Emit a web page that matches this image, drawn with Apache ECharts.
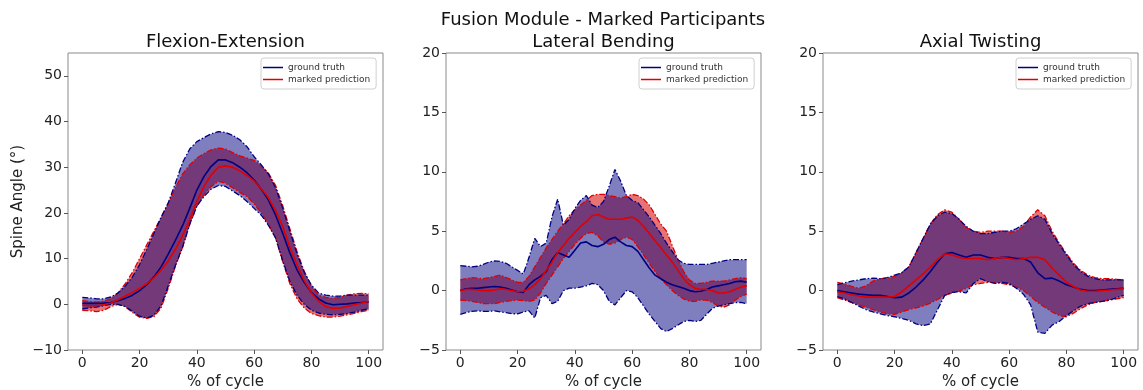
<!DOCTYPE html>
<html><head><meta charset="utf-8">
<script src="https://cdn.jsdelivr.net/npm/echarts@6/dist/echarts.min.js"></script>
<style>html,body{margin:0;padding:0;background:#fff}#c{width:1143px;height:390px}</style>
</head><body><div id="c"></div><script>
// ---------- data ----------
const X25 = [0,2.5,5,7.5,10,12.5,15,17.5,20,22.5,25,27.5,30,32.5,35,37.5,40,42.5,45,47.5,50,52.5,55,57.5,60,62.5,65,67.5,70,72.5,75,77.5,80,82.5,85,87.5,90,92.5,95,97.5,100];
const X2 = [0,2,4,6,8,10,12,14,16,18,20,22,24,26,28,30,32,34,36,38,40,42,44,46,48,50,52,54,56,58,60,62,64,66,68,70,72,74,76,78,80,82,84,86,88,90,92,94,96,98,100];

const xTicks = [0,20,40,60,80,100];
const yTicksFE = [-10,0,10,20,30,40,50];
const yTicksSmall = [-5,0,5,10,15,20];

// Flexion-Extension
const feGtMean  = [0.2,0.2,0.2,0.25,0.4,0.8,1.3,2.0,3.0,4.3,6.0,8.2,11.0,14.0,17.2,21.0,25.0,28.0,30.2,31.6,31.6,31.0,30.0,28.8,27.2,25.2,22.8,19.5,15.5,11.2,7.5,4.8,2.6,1.2,0.3,-0.1,0.0,0.1,0.3,0.4,0.5];
const fePrMean  = [-0.2,-0.3,-0.3,-0.1,0.3,1.0,1.8,2.6,3.5,4.5,5.8,7.5,9.5,12.0,15.0,18.5,22.5,25.8,28.3,30.0,30.3,30.0,29.2,28.2,27.0,25.3,23.3,20.5,17.0,12.5,8.6,5.2,2.5,0.7,-0.5,-0.9,-0.8,-0.5,-0.1,0.3,0.6];
const feGtUpper = [1.5,1.4,1.2,1.2,1.6,2.5,4.0,6.0,8.7,12.0,15.5,19.0,22.2,26.5,31.0,34.0,35.6,36.5,37.3,37.8,37.6,37.0,36.0,34.5,32.3,30.5,28.5,25.5,21.0,16.0,11.0,7.0,4.2,2.5,2.0,1.8,1.8,2.0,2.0,2.0,2.0];
const feGtLower = [-1.0,-0.8,-0.6,-0.3,0.0,0.0,-0.5,-1.5,-2.6,-3.0,-2.4,-0.3,4.0,8.5,12.5,17.5,21.5,23.6,25.2,26.0,25.8,24.8,23.8,22.5,21.0,19.5,17.3,14.5,9.5,5.0,2.0,0.0,-1.3,-1.9,-2.2,-2.3,-2.2,-2.0,-1.7,-1.3,-1.0];
const fePrUpper = [0.8,0.6,0.5,0.7,1.2,2.5,4.5,7.0,10.0,13.0,16.0,19.0,22.0,25.5,28.5,30.5,32.0,33.0,33.8,34.2,34.0,33.2,32.5,32.0,31.5,30.3,28.7,26.0,21.5,16.5,11.5,7.2,4.0,2.0,1.5,1.3,1.5,2.0,2.3,2.4,2.3];
const fePrLower = [-1.3,-1.4,-1.6,-1.3,-0.5,0.0,-0.5,-1.8,-2.8,-3.1,-2.7,-0.8,3.5,8.3,12.5,17.5,21.5,24.0,25.8,26.9,26.5,25.5,24.5,23.6,22.0,20.0,17.5,14.5,9.3,4.5,1.2,-0.8,-2.0,-2.5,-2.8,-2.8,-2.6,-2.3,-2.0,-1.6,-1.3];

// Lateral Bending
const lbGtMean  = [0.0,0.15,0.2,0.2,0.25,0.3,0.35,0.3,0.2,0.05,-0.1,-0.15,0.5,0.9,1.2,1.6,2.6,3.2,3.0,2.8,3.4,4.0,4.1,3.8,3.7,3.9,4.3,4.5,4.1,3.8,3.7,3.3,2.6,1.9,1.3,1.0,0.7,0.5,0.35,0.2,0.0,-0.1,-0.05,0.1,0.3,0.4,0.5,0.6,0.75,0.8,0.7];
const lbPrMean  = [0.0,0.1,0.1,0.05,0.0,0.0,0.05,0.15,0.1,0.0,-0.1,-0.05,0.15,0.5,1.0,1.7,2.4,3.2,3.8,4.4,4.9,5.4,5.8,6.3,6.4,6.2,6.0,6.0,6.0,6.1,6.2,5.9,5.4,4.8,4.2,3.6,3.0,2.4,1.7,1.0,0.5,0.2,0.1,0.1,0.0,-0.2,-0.2,-0.1,0.1,0.3,0.4];
const lbGtUpper = [2.1,2.05,2.0,2.05,2.2,2.4,2.5,2.45,2.3,2.0,1.7,1.4,2.8,4.4,3.7,4.0,6.2,7.7,5.5,6.0,6.9,7.6,8.0,7.2,7.0,7.5,8.8,10.2,9.2,8.0,7.6,7.4,6.8,6.2,5.5,4.8,4.0,3.3,2.6,2.3,2.2,2.2,2.2,2.2,2.3,2.4,2.5,2.6,2.6,2.6,2.6];
const lbGtLower = [-2.0,-1.85,-1.75,-1.7,-1.75,-1.75,-1.7,-1.8,-1.85,-1.95,-1.95,-1.8,-1.7,-2.3,-0.6,-0.4,-1.1,-0.9,0.0,0.2,0.2,0.3,0.4,0.6,0.5,0.0,-0.9,-1.2,-0.6,0.0,-0.1,-0.6,-1.3,-2.0,-2.6,-3.2,-3.45,-3.2,-2.9,-2.6,-2.5,-2.6,-2.5,-2.0,-1.5,-1.3,-1.2,-1.1,-1.0,-1.0,-1.1];
const lbPrUpper = [0.9,1.0,1.1,1.05,1.0,1.1,1.2,1.3,1.1,0.9,0.7,0.7,1.2,2.0,2.8,3.6,4.3,5.0,5.6,6.3,6.8,7.2,7.6,8.0,8.1,8.1,8.0,7.9,7.8,7.9,8.1,8.0,7.7,7.2,6.4,5.6,5.0,3.8,2.6,1.6,0.9,0.6,0.6,0.7,0.8,0.8,0.8,0.9,1.0,1.1,1.0];
const lbPrLower = [-0.8,-0.85,-0.9,-1.0,-1.1,-1.1,-1.1,-1.0,-0.9,-0.85,-0.8,-0.85,-0.9,-0.8,-0.2,0.6,1.3,2.0,2.7,3.3,3.9,4.4,4.8,4.9,4.6,4.1,3.9,4.0,4.3,4.5,4.3,3.7,3.0,2.3,1.6,1.0,0.5,0.0,-0.4,-0.7,-0.9,-0.9,-0.8,-0.8,-1.0,-1.3,-1.4,-1.2,-0.8,-0.5,-0.3];

// Axial Twisting
const atGtMean  = [0.0,-0.1,-0.2,-0.3,-0.35,-0.4,-0.4,-0.5,-0.6,-0.55,-0.2,0.3,0.9,1.6,2.4,3.1,3.2,3.0,2.8,3.0,3.0,2.8,2.7,2.8,2.8,2.7,2.7,2.4,1.5,1.0,1.05,0.8,0.5,0.3,0.1,0.0,0.0,0.05,0.1,0.15,0.2];
const atPrMean  = [-0.1,-0.2,-0.35,-0.45,-0.55,-0.55,-0.55,-0.55,-0.5,-0.1,0.4,0.9,1.4,2.0,2.6,3.1,3.0,2.8,2.7,2.7,2.7,2.6,2.7,2.8,2.7,2.6,2.7,2.8,2.8,2.6,1.9,1.3,0.7,0.35,0.05,-0.05,-0.05,0.0,0.05,0.1,0.15];
const atGtUpper = [0.5,0.65,0.8,0.9,1.0,1.05,1.0,1.1,1.3,1.5,2.0,3.2,4.4,5.6,6.3,6.6,6.5,6.0,5.4,5.0,4.8,4.8,4.9,5.0,5.0,5.2,5.6,6.0,6.3,6.0,4.8,3.9,3.0,2.2,1.6,1.2,1.0,0.9,0.9,0.9,0.9];
const atGtLower = [-0.5,-0.7,-1.0,-1.3,-1.6,-1.8,-1.95,-2.1,-2.2,-2.35,-2.5,-2.8,-2.95,-2.8,-1.6,-0.4,-0.15,-0.1,-0.2,0.6,1.0,0.75,0.6,0.7,0.6,0.2,-0.3,-1.2,-3.5,-3.6,-2.9,-2.6,-2.1,-1.7,-1.3,-1.1,-1.0,-0.9,-0.8,-0.6,-0.4];
const atPrUpper = [0.7,0.55,0.35,0.2,0.4,0.8,1.0,1.0,1.2,1.5,2.0,3.2,4.4,5.6,6.4,6.8,6.6,6.0,5.3,5.0,4.9,5.0,5.0,5.0,4.9,5.0,5.4,6.2,6.8,6.3,5.0,4.0,3.1,2.3,1.7,1.3,1.1,1.0,1.0,0.95,0.9];
const atPrLower = [-0.6,-0.8,-1.0,-1.2,-1.4,-1.6,-1.8,-1.95,-2.0,-1.8,-1.6,-1.45,-1.3,-1.05,-0.75,-0.4,-0.2,-0.05,0.2,0.5,0.6,0.7,0.7,0.6,0.5,0.3,0.0,-0.5,-1.0,-1.4,-1.8,-2.1,-2.2,-1.9,-1.5,-1.2,-1.0,-0.9,-0.8,-0.7,-0.6];

const suptitle = 'Fusion Module - Marked Participants';
const titles = ['Flexion-Extension', 'Lateral Bending', 'Axial Twisting'];
const legendNames = ['ground truth', 'marked prediction'];

const panels = [
  {x:X25, gm:feGtMean, pm:fePrMean, gu:feGtUpper, gl:feGtLower, pu:fePrUpper, pl:fePrLower, yt:yTicksFE, yMin:-10, yMax:55},
  {x:X2,  gm:lbGtMean, pm:lbPrMean, gu:lbGtUpper, gl:lbGtLower, pu:lbPrUpper, pl:lbPrLower, yt:yTicksSmall, yMin:-5, yMax:20},
  {x:X25, gm:atGtMean, pm:atPrMean, gu:atGtUpper, gl:atGtLower, pu:atPrUpper, pl:atPrLower, yt:yTicksSmall, yMin:-5, yMax:20}
];

// ---------- layout / style ----------
const gridLefts = [68, 446, 823];
const GT = 53, GW = 315, GH = 297;
const FONT = 'DejaVu Sans';
const NAVY = '#000080', RED = '#e00000';
const NAVY_FILL = 'rgba(0,0,128,0.5)', RED_FILL = 'rgba(215,0,0,0.55)';
const DASHDOT = [6, 2, 1.5, 2];
const SPINE = '#8a8a8a';
const fmt = v => String(v).replace('-', '\u2212');

function pairs(xs, ys) { return xs.map((x, i) => [x, ys[i]]); }
function bandRows(xs, lo, up) { return xs.map((x, i) => [x, lo[i], up[i]]); }

const grid = [], xAxis = [], yAxis = [], series = [], title = [], legend = [];
title.push({text: suptitle, left: 603, top: 11, textAlign: 'center', padding: 0,
  textStyle: {fontFamily: FONT, fontSize: 18, fontWeight: 'normal', color: '#111'}});

panels.forEach((p, i) => {
  const L = gridLefts[i];
  grid.push({left: L, top: GT, width: GW, height: GH, show: true, borderColor: SPINE, borderWidth: 1,
    containLabel: false, outerBoundsMode: 'none'});
  title.push({text: titles[i], left: L + GW / 2, top: 33, textAlign: 'center', padding: 0,
    textStyle: {fontFamily: FONT, fontSize: 18, fontWeight: 'normal', color: '#111'}});
  xAxis.push({type: 'value', gridIndex: i, min: -5, max: 105,
    axisLine: {show: false, onZero: false}, splitLine: {show: false},
    axisTick: {show: true, length: 4, lineStyle: {color: '#555'}, customValues: xTicks},
    axisLabel: {fontFamily: FONT, fontSize: 14, color: '#222', margin: 6, customValues: xTicks, formatter: fmt},
    name: '% of cycle', nameLocation: 'middle', nameGap: 25,
    nameTextStyle: {fontFamily: FONT, fontSize: 15, color: '#222'}});
  const ya = {type: 'value', gridIndex: i, min: p.yMin, max: p.yMax,
    axisLine: {show: false, onZero: false}, splitLine: {show: false},
    axisTick: {show: true, length: 4, lineStyle: {color: '#555'}, customValues: p.yt},
    axisLabel: {fontFamily: FONT, fontSize: 14, color: '#222', margin: 6, customValues: p.yt, formatter: fmt}};
  if (i === 0) {
    ya.name = 'Spine Angle (\u00b0)'; ya.nameLocation = 'middle'; ya.nameGap = 42;
    ya.nameTextStyle = {fontFamily: FONT, fontSize: 15, color: '#222'};
  }
  yAxis.push(ya);

  const common = {type: 'line', xAxisIndex: i, yAxisIndex: i, symbol: 'none', showSymbol: false,
    smooth: false, silent: true, emphasis: {disabled: true}, animation: false};

  const prRows = bandRows(p.x, p.pl, p.pu);
  const gtRows = bandRows(p.x, p.gl, p.gu);
  const mkBand = (name, rows, fill) => ({type: 'custom', name: name, xAxisIndex: i, yAxisIndex: i,
    data: rows, encode: {x: 0, y: [1, 2]}, silent: true, animation: false,
    renderItem: function (params, api) {
      if (params.dataIndex !== 0) return null;
      const top = [], bot = [];
      for (let k = 0; k < rows.length; k++) {
        top.push(api.coord([rows[k][0], rows[k][2]]));
        bot.push(api.coord([rows[k][0], rows[k][1]]));
      }
      return {type: 'polygon', shape: {points: top.concat(bot.reverse())}, style: {fill: fill}, silent: true};
    }});

  // prediction band: fill + dash-dot edges
  series.push(mkBand('pred band', prRows, RED_FILL));
  series.push(Object.assign({}, common, {name: 'pred upper', data: pairs(p.x, p.pu), lineStyle: {color: RED, width: 1.3, type: DASHDOT}}));
  series.push(Object.assign({}, common, {name: 'pred lower', data: pairs(p.x, p.pl), lineStyle: {color: RED, width: 1.3, type: DASHDOT}}));
  // ground-truth band
  series.push(mkBand('gt band', gtRows, NAVY_FILL));
  series.push(Object.assign({}, common, {name: 'gt upper', data: pairs(p.x, p.gu), lineStyle: {color: NAVY, width: 1.3, type: DASHDOT}}));
  series.push(Object.assign({}, common, {name: 'gt lower', data: pairs(p.x, p.gl), lineStyle: {color: NAVY, width: 1.3, type: DASHDOT}}));
  // means
  series.push(Object.assign({}, common, {name: legendNames[0], data: pairs(p.x, p.gm),
    itemStyle: {color: NAVY}, lineStyle: {color: NAVY, width: 1.6}}));
  series.push(Object.assign({}, common, {name: legendNames[1], data: pairs(p.x, p.pm),
    itemStyle: {color: RED}, lineStyle: {color: RED, width: 1.6}}));

  legend.push({data: legendNames, orient: 'vertical', left: L + GW - 122, top: 58,
    icon: 'rect', itemWidth: 20, itemHeight: 1.5, itemGap: 3, padding: [5, 6, 5, 2],
    borderColor: '#d0d0d0', borderWidth: 1, borderRadius: 3, backgroundColor: '#fff',
    selectedMode: false,
    textStyle: {fontFamily: FONT, fontSize: 9, color: '#333'}});
});

const chart = echarts.init(document.getElementById('c'), null, {renderer: 'canvas'});
chart.setOption({animation: false, backgroundColor: '#fff', title, grid, xAxis, yAxis, series, legend});
</script></body></html>
